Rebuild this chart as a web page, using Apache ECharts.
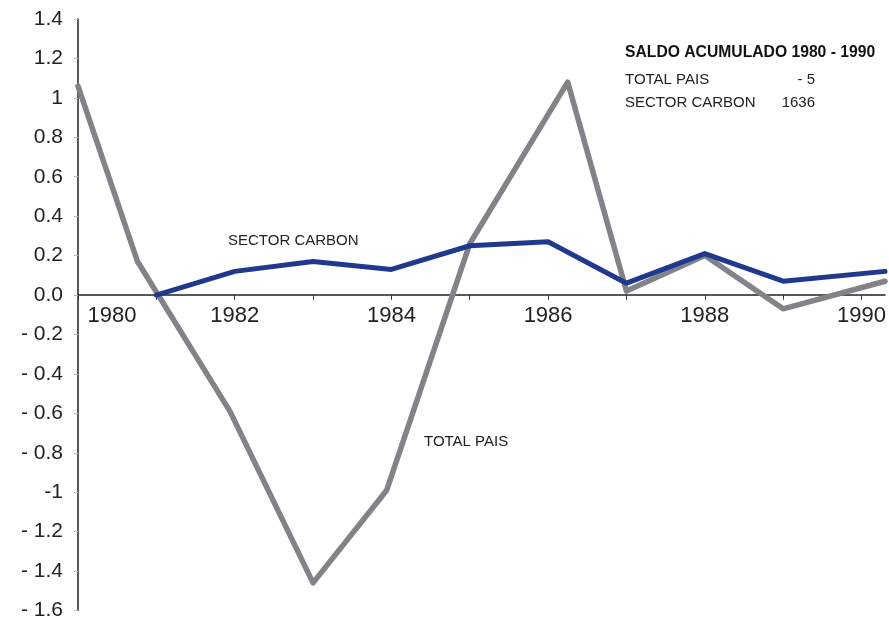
<!DOCTYPE html>
<html>
<head>
<meta charset="utf-8">
<script src="https://cdn.jsdelivr.net/npm/echarts@6/dist/echarts.min.js"></script>
<style>
  html, body { margin: 0; padding: 0; background: #fff; }
  #chart { width: 889px; height: 621px; }
</style>
</head>
<body>
<div id="chart"></div>
<script>
// year positions (some points sit between years)
const totalPaisYears = [1980, 1980.76, 1981.94, 1983, 1983.94, 1985, 1986.25, 1987, 1988, 1989, 1990.3];
const totalPaisValues = [1.06, 0.17, -0.59, -1.46, -0.99, 0.26, 1.08, 0.02, 0.2, -0.07, 0.07];

const sectorCarbonYears = [1981, 1982, 1983, 1984, 1985, 1986, 1987, 1988, 1989, 1990.3];
const sectorCarbonValues = [0.0, 0.12, 0.17, 0.13, 0.25, 0.27, 0.06, 0.21, 0.07, 0.12];

const yTickLabels = ['- 1.6', '- 1.4', '- 1.2', '-1', '- 0.8', '- 0.6', '- 0.4', '- 0.2',
                     '0.0', '0.2', '0.4', '0.6', '0.8', '1', '1.2', '1.4'];

const summaryTitle = 'SALDO ACUMULADO 1980 - 1990';
const summaryNames = ['TOTAL PAIS', 'SECTOR CARBON'];
const summaryValues = ['- 5', '1636'];

const FONT = '"Liberation Sans", Arial, Helvetica, sans-serif';
const GREY = '#818389';
const BLUE = '#20398f';

const Y_MIN = -1.6, Y_MAX = 1.4;
const GRID_TOP = 19, GRID_BOTTOM = 10, H = 621;

const chart = echarts.init(document.getElementById('chart'));

const pairs = (xs, ys) => xs.map((x, i) => [x, ys[i]]);

// move the bottom x axis (line + labels) up to the zero line
const plotH = H - GRID_TOP - GRID_BOTTOM;
const zeroOffset = -plotH * (0 - Y_MIN) / (Y_MAX - Y_MIN);

const summaryGraphics = [
  {
    type: 'text', left: 625, top: 45,
    style: { text: summaryTitle, font: 'bold 15.7px ' + FONT, fill: '#111' }
  }
];
summaryNames.forEach((name, i) => {
  summaryGraphics.push({
    type: 'text', left: 625, top: 72 + i * 23,
    style: { text: name, font: '15px ' + FONT, fill: '#222' }
  });
  summaryGraphics.push({
    type: 'text', right: 74, top: 72 + i * 23,
    style: { text: summaryValues[i], font: '15px ' + FONT, fill: '#222', align: 'right' }
  });
});

const option = {
  backgroundColor: '#fff',
  animation: false,
  grid: { left: 78, right: 4, top: GRID_TOP, bottom: GRID_BOTTOM, containLabel: false },
  xAxis: {
    type: 'value',
    min: 1980,
    max: 1990.3,
    interval: 1,
    position: 'bottom',
    offset: zeroOffset,
    axisLine: { show: true, onZero: false, lineStyle: { color: '#222', width: 1.5 } },
    axisTick: { show: true, length: 5, lineStyle: { color: '#333' } },
    splitLine: { show: false },
    axisLabel: {
      margin: 10,
      fontFamily: FONT,
      fontSize: 22,
      color: '#222',
      showMaxLabel: false,
      formatter: function (v) {
        if (Math.abs(v - Math.round(v)) > 1e-6) return '';
        const y = Math.round(v);
        if (y % 2 !== 0) return '';
        if (y === 1980) return '{first|1980}';
        return String(y);
      },
      rich: {
        first: { fontFamily: FONT, fontSize: 22, color: '#222', padding: [0, 0, 0, 68] }
      }
    }
  },
  yAxis: {
    type: 'value',
    min: Y_MIN,
    max: Y_MAX,
    interval: 0.2,
    axisLine: { show: true, lineStyle: { color: '#222', width: 1.5 } },
    axisTick: { show: true, length: 4, lineStyle: { color: '#bbb' } },
    splitLine: { show: false },
    axisLabel: {
      margin: 15,
      fontFamily: FONT,
      fontSize: 21,
      color: '#222',
      formatter: function (v) {
        const idx = Math.round((v - Y_MIN) / 0.2);
        return yTickLabels[idx] !== undefined ? yTickLabels[idx] : '';
      }
    }
  },
  graphic: [
    {
      type: 'text', left: 228, top: 233,
      style: { text: 'SECTOR CARBON', font: '15px ' + FONT, fill: '#222' }
    },
    {
      type: 'text', left: 424, top: 434,
      style: { text: 'TOTAL PAIS', font: '15px ' + FONT, fill: '#222' }
    }
  ].concat(summaryGraphics),
  series: [
    {
      name: 'TOTAL PAIS',
      type: 'line',
      data: pairs(totalPaisYears, totalPaisValues),
      symbol: 'none',
      lineStyle: { color: GREY, width: 5.5, cap: 'round', join: 'round' },
      z: 2
    },
    {
      name: 'SECTOR CARBON',
      type: 'line',
      data: pairs(sectorCarbonYears, sectorCarbonValues),
      symbol: 'none',
      lineStyle: { color: BLUE, width: 5, cap: 'round', join: 'round' },
      z: 3
    }
  ]
};

chart.setOption(option);
</script>
</body>
</html>
